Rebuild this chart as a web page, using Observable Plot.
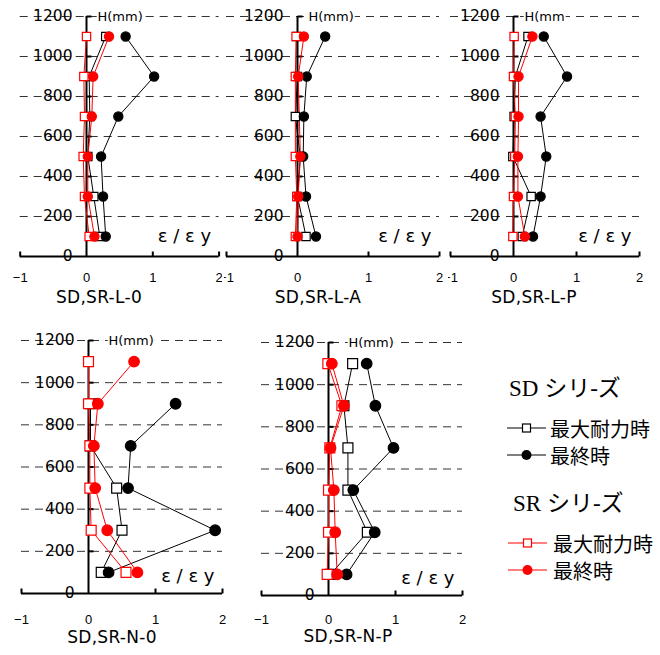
<!DOCTYPE html>
<html><head><meta charset="utf-8">
<script src="https://cdn.jsdelivr.net/npm/d3@7"></script>
<script src="https://cdn.jsdelivr.net/npm/@observablehq/plot@0.6"></script>
<style>
body{margin:0;background:#fff;}
#root{position:relative;width:660px;height:655px;overflow:hidden;font-family:"DejaVu Sans",sans-serif;}
.panel{position:absolute;}
.title{position:absolute;font-family:"DejaVu Sans",sans-serif;font-size:17px;line-height:1;letter-spacing:0.3px;transform:translate(-50%,-50%);white-space:nowrap;color:#000;}
.lg{position:absolute;white-space:nowrap;transform:translateY(-50%);color:#000;}
.lgh{font-family:"Liberation Serif","Noto Sans CJK JP",serif;font-size:23px;}
.lgi{font-family:"Noto Sans CJK JP",sans-serif;font-size:20px;}
</style></head><body><div id="root"></div>
<script>
// heights of gauges (mm)
const heights = [1100, 900, 700, 500, 300, 100];
const yTicks = [0, 200, 400, 600, 800, 1000, 1200];
const gridValues = [200, 400, 600, 800, 1000, 1200];
const xTicks = [-1, 0, 1, 2];
const xTickLabels = ["\u22121", "0", "1", "2"];
const panelNames = ["SD,SR-L-0", "SD,SR-L-A", "SD,SR-L-P", "SD,SR-N-0", "SD,SR-N-P"];
const hLabels = ["H(mm)", "H(mm)", "H(mm", "H(mm)", "H(mm)"];
const strainLabel = "\u03b5 / \u03b5 y";

// ε/εy values, ordered as heights; null = no point
const sdMax_L0   = [0.29, 0.04, 0.05, 0.02, 0.11, 0.20];
const sdFinal_L0 = [0.59, 1.02, 0.48, 0.22, 0.25, 0.29];
const srMax_L0   = [0.00, -0.04, -0.03, -0.05, -0.03, 0.04];
const srFinal_L0 = [0.34, 0.10, 0.08, 0.02, 0.02, 0.12];

const sdMax_LA   = [-0.01, 0.00, -0.03, 0.04, 0.00, 0.12];
const sdFinal_LA = [0.39, 0.13, 0.09, 0.08, 0.12, 0.26];
const srMax_LA   = [-0.02, -0.03, null, -0.03, -0.01, -0.03];
const srFinal_LA = [0.09, 0.01, null, 0.04, 0.01, 0.00];

const sdMax_LP   = [0.23, 0.03, 0.01, -0.01, 0.28, 0.14];
const sdFinal_LP = [0.48, 0.85, 0.43, 0.52, 0.43, 0.31];
const srMax_LP   = [0.01, 0.00, 0.03, 0.02, 0.00, -0.01];
const srFinal_LP = [0.30, 0.08, 0.08, 0.07, 0.07, 0.18];

const sdMax_N0   = [null, 0.03, 0.03, 0.42, 0.50, 0.19];
const sdFinal_N0 = [null, 1.30, 0.63, 0.59, 1.89, 0.30];
const srMax_N0   = [0.00, 0.00, 0.02, 0.02, 0.04, 0.56];
const srFinal_N0 = [0.68, 0.14, 0.08, 0.10, 0.28, 0.73];

const sdMax_NP   = [0.36, 0.23, 0.29, 0.29, 0.58, 0.03];
const sdFinal_NP = [0.57, 0.70, 0.97, 0.37, 0.69, 0.27];
const srMax_NP   = [-0.01, 0.20, 0.02, 0.00, 0.00, -0.02];
const srFinal_NP = [0.05, 0.23, 0.03, 0.08, 0.10, 0.13];

const RED = "#ff0000";

const rows = arr => heights.map((h, i) => ({h, v: arr[i]})).filter(d => d.v != null);

const vTick = {draw(ctx) { ctx.moveTo(0, 0); ctx.lineTo(0, -5); }};
const hTick = {draw(ctx) { ctx.moveTo(0, 0); ctx.lineTo(5, 0); }};

function panel(cfg) {
  const {left, top, width, height, xm1, x2, y0, y1200, series, idx, big, tickDy} = cfg;
  const rs = big ? 5.6 : 4.7, rc = big ? 5.3 : 4.6;
  const marks = [
    Plot.ruleY(gridValues, {y: d => d, stroke: "#333", strokeWidth: 1, strokeDasharray: "8,6"}),
    Plot.ruleY([0], {y: d => d, stroke: "#000", strokeWidth: 2}),
    Plot.ruleX([0], {x: d => d, y1: () => 0, y2: () => 1200, stroke: "#000", strokeWidth: 2}),
    Plot.dot(xTicks.filter(d => d !== 0), {x: d => d, y: () => 0, symbol: vTick, stroke: "#000", strokeWidth: 2, r: 3}),
    Plot.dot(yTicks.filter(d => d > 0), {x: () => 0, y: d => d, symbol: hTick, stroke: "#000", strokeWidth: 2, r: 3}),
    Plot.text(yTicks, {x: () => 0, y: d => d, text: d => String(d), textAnchor: "end", dx: -14, fontSize: 15.5, fill: "#000", fontFamily: "DejaVu Sans"}),
    Plot.text(xTicks, {x: d => d, y: () => 0, text: (d, i) => xTickLabels[i], dy: tickDy, fontSize: 13, fill: "#000", fontFamily: "Liberation Sans"}),
    Plot.text([hLabels[idx]], {x: () => 0, y: () => 1200, text: d => d, textAnchor: "start", dx: big ? 20 : 11, fontSize: 13, fill: "#000", stroke: "white", strokeWidth: 4, fontFamily: "DejaVu Sans"}),
    Plot.text([strainLabel], {frameAnchor: "bottom-right", text: d => d, textAnchor: "end", dx: -8, dy: big ? -12 : -15, fontSize: 18, fill: "#000", fontFamily: "DejaVu Sans"})
  ];
  const defs = [
    {data: series[0], color: "#000", symbol: "square", fill: "white"},
    {data: series[1], color: "#000", symbol: "circle", fill: "#000"},
    {data: series[2], color: RED, symbol: "square", fill: "white"},
    {data: series[3], color: RED, symbol: "circle", fill: RED}
  ];
  for (const s of defs) {
    marks.push(Plot.line(rows(s.data), {x: "v", y: "h", stroke: s.color, strokeWidth: 1}));
  }
  for (const s of defs) {
    marks.push(Plot.dot(rows(s.data), {x: "v", y: "h", symbol: s.symbol, fill: s.fill, stroke: s.color, strokeWidth: 1.2, r: s.symbol === "square" ? rs : rc}));
  }
  const svg = Plot.plot({
    width, height,
    marginLeft: xm1 - left, marginRight: left + width - x2,
    marginTop: y1200 - top, marginBottom: top + height - y0,
    x: {domain: [-1, 2], axis: null},
    y: {domain: [0, 1200], axis: null},
    style: {background: "transparent", overflow: "hidden", fontFamily: "DejaVu Sans, sans-serif"},
    marks
  });
  svg.classList.add("panel");
  svg.style.left = left + "px";
  svg.style.top = top + "px";
  svg.style.position = "absolute";
  return svg;
}

const root = document.getElementById("root");
const cfgs = [
  {left: 0, top: 0, width: 222, height: 310, xm1: 19.7, x2: 218.6, y0: 256, y1200: 16, tickDy: 21,
   series: [sdMax_L0, sdFinal_L0, srMax_L0, srFinal_L0], title: [99, 297]},
  {left: 224, top: 0, width: 222, height: 310, xm1: 226, x2: 439, y0: 256, y1200: 16, tickDy: 21,
   series: [sdMax_LA, sdFinal_LA, srMax_LA, srFinal_LA], title: [318, 297]},
  {left: 448, top: 0, width: 212, height: 310, xm1: 450, x2: 639, y0: 256, y1200: 16, tickDy: 21,
   series: [sdMax_LP, sdFinal_LP, srMax_LP, srFinal_LP], title: [534, 297]},
  {left: 0, top: 320, width: 232, height: 335, xm1: 21, x2: 222, y0: 593, y1200: 340, tickDy: 26, big: true,
   series: [sdMax_N0, sdFinal_N0, srMax_N0, srFinal_N0], title: [112, 637]},
  {left: 240, top: 320, width: 232, height: 335, xm1: 261, x2: 462, y0: 595, y1200: 342, tickDy: 24, big: true,
   series: [sdMax_NP, sdFinal_NP, srMax_NP, srFinal_NP], title: [348, 636]}
];
cfgs.forEach((c, i) => {
  root.appendChild(panel({...c, idx: i}));
  const t = document.createElement("div");
  t.className = "title";
  t.textContent = panelNames[i];
  t.style.left = c.title[0] + "px";
  t.style.top = c.title[1] + "px";
  root.appendChild(t);
});

// legend
const legendGroups = [
  {head: "SD \u30b7\u30ea-\u30ba", color: "#000", hx: 509, hy: 386, rows: [
    {label: "\u6700\u5927\u8010\u529b\u6642", sym: "square", y: 428},
    {label: "\u6700\u7d42\u6642", sym: "circle", y: 455}], lx: 507, tx: 550},
  {head: "SR \u30b7\u30ea-\u30ba", color: RED, hx: 513, hy: 501, rows: [
    {label: "\u6700\u5927\u8010\u529b\u6642", sym: "square", y: 543},
    {label: "\u6700\u7d42\u6642", sym: "circle", y: 570}], lx: 508, tx: 553}
];
for (const g of legendGroups) {
  const h = document.createElement("div");
  h.className = "lg lgh";
  h.textContent = g.head;
  h.style.left = g.hx + "px"; h.style.top = g.hy + "px";
  root.appendChild(h);
  for (const r of g.rows) {
    const ns = "http://www.w3.org/2000/svg";
    const s = document.createElementNS(ns, "svg");
    s.setAttribute("width", 40); s.setAttribute("height", 14);
    s.style.position = "absolute"; s.style.left = g.lx + "px"; s.style.top = (r.y - 7) + "px";
    const ln = document.createElementNS(ns, "line");
    ln.setAttribute("x1", 0); ln.setAttribute("x2", 39); ln.setAttribute("y1", 7); ln.setAttribute("y2", 7);
    ln.setAttribute("stroke", g.color); ln.setAttribute("stroke-width", 1.2);
    s.appendChild(ln);
    if (r.sym === "square") {
      const q = document.createElementNS(ns, "rect");
      q.setAttribute("x", 15.5); q.setAttribute("y", 3); q.setAttribute("width", 8); q.setAttribute("height", 8);
      q.setAttribute("fill", "white"); q.setAttribute("stroke", g.color); q.setAttribute("stroke-width", 1.2);
      s.appendChild(q);
    } else {
      const c = document.createElementNS(ns, "circle");
      c.setAttribute("cx", 19.5); c.setAttribute("cy", 7); c.setAttribute("r", 5);
      c.setAttribute("fill", g.color);
      s.appendChild(c);
    }
    root.appendChild(s);
    const t = document.createElement("div");
    t.className = "lg lgi";
    t.textContent = r.label;
    t.style.left = g.tx + "px"; t.style.top = r.y + "px";
    root.appendChild(t);
  }
}
</script>
</body></html>
